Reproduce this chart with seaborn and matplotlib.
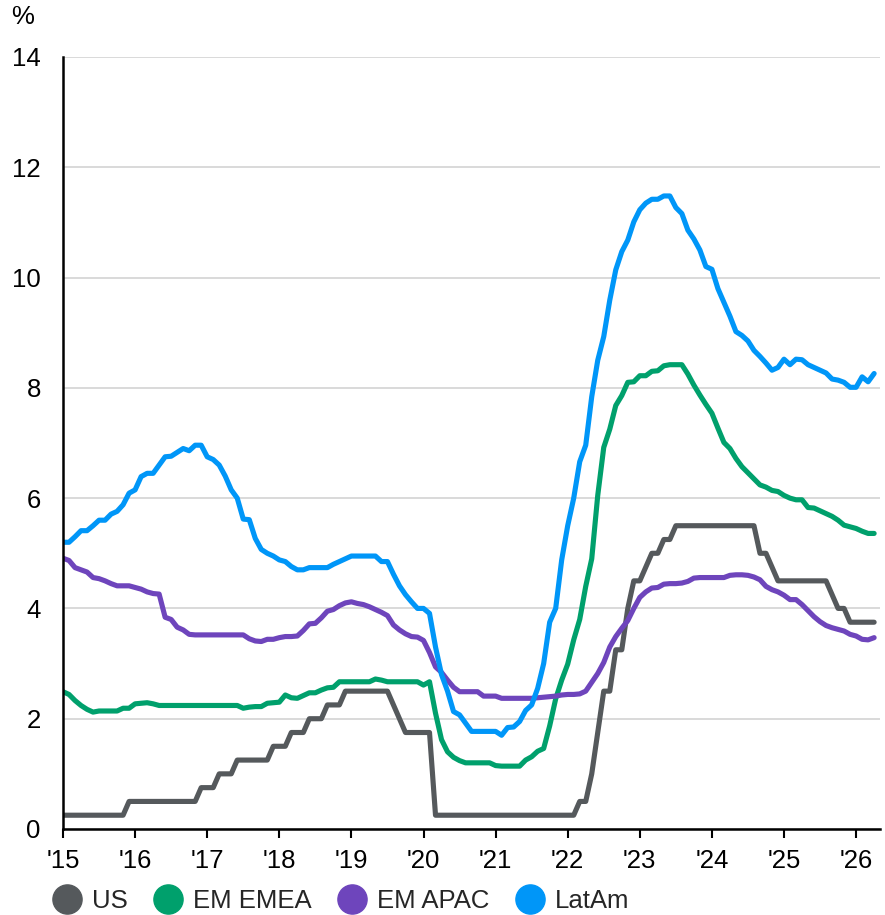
import numpy as np
import pandas as pd
import matplotlib
matplotlib.use("Agg")
import matplotlib.pyplot as plt
from matplotlib.lines import Line2D
import seaborn as sns

# Monthly policy-rate averages, Jan 2015 to Apr 2026 (%)
us = [
    0.25, 0.25, 0.25, 0.25, 0.25, 0.25, 0.25, 0.25, 0.25, 0.25, 0.25, 0.50,
    0.50, 0.50, 0.50, 0.50, 0.50, 0.50, 0.50, 0.50, 0.50, 0.50, 0.50, 0.75,
    0.75, 0.75, 1.00, 1.00, 1.00, 1.25, 1.25, 1.25, 1.25, 1.25, 1.25, 1.50,
    1.50, 1.50, 1.75, 1.75, 1.75, 2.00, 2.00, 2.00, 2.25, 2.25, 2.25, 2.50,
    2.50, 2.50, 2.50, 2.50, 2.50, 2.50, 2.50, 2.25, 2.00, 1.75, 1.75, 1.75,
    1.75, 1.75, 0.25, 0.25, 0.25, 0.25, 0.25, 0.25, 0.25, 0.25, 0.25, 0.25,
    0.25, 0.25, 0.25, 0.25, 0.25, 0.25, 0.25, 0.25, 0.25, 0.25, 0.25, 0.25,
    0.25, 0.25, 0.50, 0.50, 1.00, 1.75, 2.50, 2.50, 3.25, 3.25, 4.00, 4.50,
    4.50, 4.75, 5.00, 5.00, 5.25, 5.25, 5.50, 5.50, 5.50, 5.50, 5.50, 5.50,
    5.50, 5.50, 5.50, 5.50, 5.50, 5.50, 5.50, 5.50, 5.00, 5.00, 4.75, 4.50,
    4.50, 4.50, 4.50, 4.50, 4.50, 4.50, 4.50, 4.50, 4.25, 4.00, 4.00, 3.75,
    3.75, 3.75, 3.75, 3.75,
]
em_emea = [
    2.49, 2.44, 2.33, 2.24, 2.17, 2.12, 2.14, 2.14, 2.14, 2.14, 2.19, 2.19,
    2.27, 2.28, 2.29, 2.27, 2.24, 2.24, 2.24, 2.24, 2.24, 2.24, 2.24, 2.24,
    2.24, 2.24, 2.24, 2.24, 2.24, 2.24, 2.19, 2.21, 2.22, 2.22, 2.28, 2.29,
    2.30, 2.43, 2.38, 2.37, 2.42, 2.47, 2.47, 2.52, 2.56, 2.57, 2.67, 2.67,
    2.67, 2.67, 2.67, 2.67, 2.72, 2.70, 2.67, 2.67, 2.67, 2.67, 2.67, 2.67,
    2.61, 2.67, 2.10, 1.62, 1.40, 1.30, 1.24, 1.20, 1.20, 1.20, 1.20, 1.20,
    1.15, 1.14, 1.14, 1.14, 1.14, 1.25, 1.31, 1.41, 1.46, 1.87, 2.36, 2.70,
    2.99, 3.43, 3.80, 4.40, 4.90, 6.05, 6.92, 7.25, 7.68, 7.86, 8.10, 8.11,
    8.22, 8.22, 8.30, 8.31, 8.40, 8.42, 8.42, 8.42, 8.25, 8.05, 7.87, 7.70,
    7.54, 7.27, 7.01, 6.90, 6.72, 6.57, 6.46, 6.35, 6.24, 6.20, 6.14, 6.12,
    6.05, 6.00, 5.97, 5.97, 5.83, 5.82, 5.77, 5.72, 5.67, 5.60, 5.51, 5.48,
    5.45, 5.40, 5.36, 5.36,
]
em_apac = [
    4.91, 4.87, 4.74, 4.70, 4.66, 4.56, 4.54, 4.50, 4.45, 4.41, 4.41, 4.41,
    4.38, 4.35, 4.30, 4.27, 4.26, 3.84, 3.80, 3.66, 3.61, 3.53, 3.52, 3.52,
    3.52, 3.52, 3.52, 3.52, 3.52, 3.52, 3.52, 3.45, 3.41, 3.40, 3.44, 3.44,
    3.47, 3.49, 3.49, 3.50, 3.60, 3.72, 3.73, 3.83, 3.95, 3.98, 4.05, 4.10,
    4.12, 4.09, 4.07, 4.03, 3.98, 3.93, 3.87, 3.70, 3.61, 3.54, 3.49, 3.48,
    3.42, 3.20, 2.94, 2.84, 2.70, 2.57, 2.49, 2.49, 2.49, 2.49, 2.41, 2.41,
    2.41, 2.37, 2.37, 2.37, 2.37, 2.37, 2.37, 2.38, 2.39, 2.40, 2.41, 2.43,
    2.44, 2.44, 2.45, 2.50, 2.66, 2.82, 3.02, 3.30, 3.49, 3.64, 3.78, 4.00,
    4.20, 4.30, 4.37, 4.38, 4.44, 4.45, 4.45, 4.46, 4.49, 4.55, 4.56, 4.56,
    4.56, 4.56, 4.56, 4.60, 4.61, 4.61, 4.60, 4.57, 4.52, 4.40, 4.34, 4.30,
    4.24, 4.16, 4.16, 4.07, 3.96, 3.85, 3.76, 3.69, 3.65, 3.62, 3.59, 3.53,
    3.50, 3.44, 3.43, 3.47,
]
latam = [
    5.20, 5.20, 5.30, 5.41, 5.41, 5.50, 5.60, 5.60, 5.71, 5.76, 5.88, 6.09,
    6.15, 6.39, 6.45, 6.45, 6.60, 6.75, 6.76, 6.83, 6.90, 6.86, 6.96, 6.96,
    6.75, 6.70, 6.60, 6.40, 6.15, 6.00, 5.62, 5.61, 5.27, 5.07, 5.00, 4.95,
    4.88, 4.85, 4.76, 4.70, 4.70, 4.74, 4.74, 4.74, 4.74, 4.80, 4.85, 4.90,
    4.95, 4.95, 4.95, 4.95, 4.95, 4.85, 4.85, 4.62, 4.41, 4.25, 4.12, 4.00,
    4.00, 3.91, 3.30, 2.80, 2.50, 2.13, 2.07, 1.92, 1.77, 1.77, 1.77, 1.77,
    1.77, 1.70, 1.84, 1.85, 1.95, 2.15, 2.25, 2.55, 3.00, 3.75, 4.00, 4.88,
    5.50, 6.00, 6.66, 6.96, 7.84, 8.50, 8.93, 9.59, 10.14, 10.47, 10.68, 11.01,
    11.23, 11.35, 11.42, 11.42, 11.48, 11.48, 11.27, 11.16, 10.86, 10.70, 10.50, 10.20,
    10.15, 9.80, 9.55, 9.30, 9.02, 8.95, 8.85, 8.68, 8.57, 8.45, 8.32, 8.37,
    8.52, 8.42, 8.52, 8.51, 8.42, 8.37, 8.32, 8.27, 8.16, 8.14, 8.10, 8.01,
    8.01, 8.20, 8.11, 8.26,
]

series_names = ["US", "EM EMEA", "EM APAC", "LatAm"]
series_values = [us, em_emea, em_apac, latam]
colors = ["#55595C", "#00A06C", "#6E45BC", "#0096F8"]

year_ticks = list(range(2015, 2027))
year_labels = ["'15", "'16", "'17", "'18", "'19", "'20", "'21", "'22",
               "'23", "'24", "'25", "'26"]
y_ticks = [0, 2, 4, 6, 8, 10, 12, 14]

# Long-form frame: fractional year per month
frames = []
for name, vals in zip(series_names, series_values):
    t = 2015 + np.arange(len(vals)) / 12.0
    frames.append(pd.DataFrame({"date": t, "rate": vals, "series": name}))
df = pd.concat(frames, ignore_index=True)

sns.set_theme(style="white")
plt.rcParams["font.family"] = ["Liberation Sans", "DejaVu Sans"]
FS = 18.5

fig = plt.figure(figsize=(8.85, 9.15), dpi=100)
ax = fig.add_axes([63 / 885, 1 - 829 / 915, (880 - 63) / 885, (829 - 57) / 915])

sns.lineplot(data=df, x="date", y="rate", hue="series",
             hue_order=series_names, palette=colors,
             linewidth=3.7, legend=False, ax=ax, zorder=3)

ax.set_xlim(2015, 2015 + (880 - 63) / 72.1)
ax.set_ylim(0, 14)
ax.set_xticks(year_ticks)
ax.set_xticklabels(year_labels)
ax.set_yticks(y_ticks)
ax.set_xlabel("")
ax.set_ylabel("")

ax.grid(axis="y", color="#D3D3D3", linewidth=1.2, zorder=0)
ax.grid(axis="x", visible=False)
for side in ["top", "right"]:
    ax.spines[side].set_visible(False)
for side in ["left", "bottom"]:
    ax.spines[side].set_color("black")
    ax.spines[side].set_linewidth(1.8)
    ax.spines[side].set_zorder(4)

ax.tick_params(axis="x", direction="out", length=6.5, width=1.5, color="black",
               pad=8, labelsize=FS, labelcolor="black", bottom=True)
ax.tick_params(axis="y", length=0, pad=16, labelsize=FS, labelcolor="black")

fig.text(0.013, 0.995, "%", ha="left", va="top", fontsize=FS, color="black")

handles = [Line2D([], [], marker="o", linestyle="", markersize=21,
                  markerfacecolor=c, markeredgecolor=c) for c in colors]
fig.legend(handles, series_names, loc="center left",
           bbox_to_anchor=(52 / 885, (915 - 901) / 915), ncol=4, frameon=False,
           fontsize=FS, handletextpad=0.4, columnspacing=1.0,
           borderpad=0, borderaxespad=0, handlelength=1.15)

fig.savefig("out.png", dpi=100)
